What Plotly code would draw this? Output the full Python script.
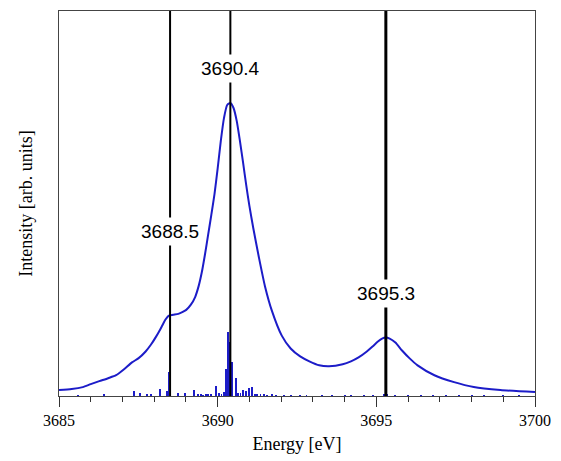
import plotly.graph_objects as go

# Broadened spectrum (energy in eV, intensity in arbitrary units)
spec_energy = [3685.00, 3685.40, 3685.75, 3686.00, 3686.27, 3686.55, 3686.80, 3687.05,
               3687.30, 3687.50, 3687.73, 3687.90, 3688.04, 3688.15, 3688.25, 3688.35,
               3688.45, 3688.60, 3688.76, 3688.90, 3689.01, 3689.15, 3689.29, 3689.40,
               3689.50, 3689.60, 3689.70, 3689.80, 3689.90, 3690.00, 3690.10, 3690.20,
               3690.30, 3690.40, 3690.50, 3690.60, 3690.70, 3690.80, 3690.90, 3691.00,
               3691.12, 3691.30, 3691.49, 3691.71, 3692.02, 3692.30, 3692.60, 3692.89,
               3693.20, 3693.51, 3693.94, 3694.20, 3694.44, 3694.70, 3694.88, 3695.05,
               3695.18, 3695.30, 3695.42, 3695.60, 3695.81, 3696.05, 3696.30, 3696.83,
               3697.45, 3698.07, 3698.91, 3700.00]
spec_intensity = [6, 7, 9, 12, 15, 18, 21, 27,
                  34, 38, 45, 52, 59, 65, 71, 77,
                  81, 82, 83, 85, 87, 92, 100, 111,
                  125, 143, 163, 183, 204, 230, 258, 281,
                  294, 296, 291, 278, 258, 236, 213, 192,
                  170, 140, 111, 86, 61, 48, 40, 35,
                  31, 30, 32, 35, 39, 45, 50, 55,
                  58, 59, 58, 54, 46, 38, 31, 21,
                  14, 9, 6, 4]

# Individual transitions (stick spectrum)
stick_energy = [3685.60, 3686.43, 3687.36, 3687.55, 3687.76, 3687.89, 3688.17, 3688.39,
                3688.45, 3688.76, 3688.98, 3689.25, 3689.38, 3689.47, 3689.55, 3689.62,
                3689.69, 3689.80, 3689.94, 3690.05, 3690.12, 3690.19, 3690.25, 3690.34,
                3690.40, 3690.44, 3690.57, 3690.65, 3690.72, 3690.80, 3690.90, 3690.98,
                3691.09, 3691.18, 3691.25, 3691.35, 3691.45, 3691.55, 3691.70, 3691.85,
                3692.10, 3692.30, 3692.60, 3692.80, 3693.30, 3693.60, 3694.00, 3694.20,
                3694.60, 3694.90, 3695.25, 3695.35, 3695.60, 3696.00, 3696.40, 3696.80,
                3697.20, 3697.60, 3698.00, 3698.40, 3699.00, 3699.50]
stick_intensity = [1, 2, 5, 3, 2, 2, 7, 5,
                   24, 3, 3, 6, 2, 2, 1, 2,
                   2, 2, 10, 3, 2, 4, 27, 65,
                   55, 34, 18, 3, 3, 6, 5, 8,
                   9, 2, 2, 2, 2, 1, 2, 1,
                   1, 1, 1, 1, 1, 1, 1, 1,
                   1, 1, 2, 2, 1, 1, 1, 1,
                   1, 1, 1, 1, 1, 1]

# Marked peak positions
peak_energy = [3688.5, 3690.4, 3695.3]
peak_label = ["3688.5", "3690.4", "3695.3"]
peak_label_height = [166, 331, 104]
peak_line_width = [2, 2, 3]

x_ticks = [3685, 3690, 3695, 3700]

BLUE = "rgb(28,28,200)"

fig = go.Figure()

fig.add_trace(go.Bar(
    x=stick_energy, y=stick_intensity, width=0.03,
    marker=dict(color=BLUE, line=dict(width=0)),
    showlegend=False, hoverinfo="x+y",
))

fig.add_trace(go.Scatter(
    x=spec_energy, y=spec_intensity, mode="lines",
    line=dict(color=BLUE, width=2, shape="spline", smoothing=0.6),
    showlegend=False,
))

for e, lab, h, w in zip(peak_energy, peak_label, peak_label_height, peak_line_width):
    fig.add_shape(type="line", xref="x", yref="paper", x0=e, x1=e, y0=0, y1=1,
                  line=dict(color="black", width=w), layer="above")
    fig.add_annotation(x=e, y=h, xref="x", yref="y", text=lab, showarrow=False,
                       bgcolor="white", borderpad=3,
                       font=dict(family="Liberation Sans, Arial", size=19, color="black"))

fig.update_layout(
    width=561, height=461,
    margin=dict(l=59, r=19, t=10, b=62),
    paper_bgcolor="white", plot_bgcolor="white",
    bargap=0,
    font=dict(family="Liberation Serif, Times New Roman", color="black"),
)

fig.update_xaxes(
    range=[3685, 3700], tickvals=x_ticks, ticktext=[str(t) for t in x_ticks],
    ticks="outside", ticklen=10, tickwidth=1, tickcolor="#333",
    minor=dict(dtick=1, ticks="outside", ticklen=5, tickwidth=1, tickcolor="#333"),
    showline=True, linecolor="#444", linewidth=1, mirror=True,
    showgrid=False, zeroline=False,
    tickfont=dict(size=16, family="Liberation Serif"),
    title=dict(text="Energy [eV]", font=dict(size=18, family="Liberation Serif"), standoff=9),
)
fig.update_yaxes(
    range=[0, 389], showticklabels=False, ticks="",
    showline=True, linecolor="#444", linewidth=1, mirror=True,
    showgrid=False, zeroline=False,
    title=dict(text="Intensity [arb. units]", font=dict(size=18, family="Liberation Serif"), standoff=20),
)

fig.write_html("out.html")
